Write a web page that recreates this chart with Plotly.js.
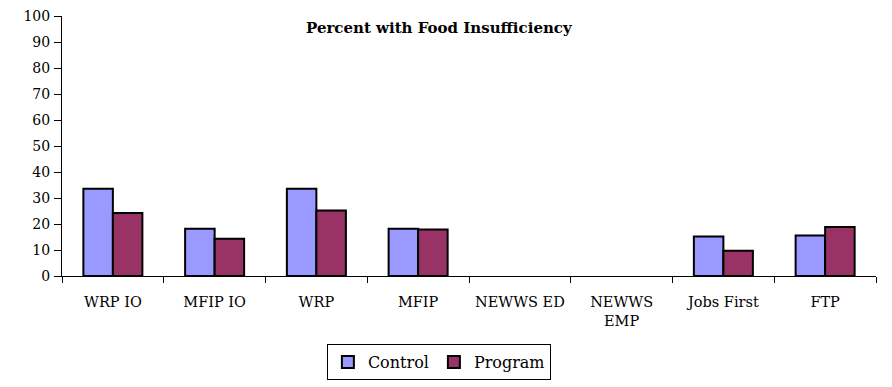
<!DOCTYPE html>
<html>
<head>
<meta charset="utf-8">
<script src="https://cdn.plot.ly/plotly-3.0.1.min.js"></script>
<style>
  html, body { margin: 0; padding: 0; background: #fff; }
  #chart { width: 892px; height: 387px; }
</style>
</head>
<body>
<div id="chart"></div>
<script>
// programs along the x axis
const programs = ["WRP IO", "MFIP IO", "WRP", "MFIP", "NEWWS ED", "NEWWS<br>EMP", "Jobs First", "FTP"];

// percent with food insufficiency (null = not reported)
const controlValues = [33.6, 18.2, 33.6, 18.2, null, null, 15.2, 15.6];
const programValues = [24.2, 14.3, 25.2, 17.9, null, null, 9.7, 18.8];

const yTicks = [0, 10, 20, 30, 40, 50, 60, 70, 80, 90, 100];

// the only serif face that actually resolves in the renderer
const serif = "DejaVu Serif";

const control = {
    x: programs,
    y: controlValues,
    name: "Control",
    type: "bar",
    marker: { color: "#9999FF", line: { color: "#000", width: 2 } },
    hoverinfo: "y"
};

const program = {
    x: programs,
    y: programValues,
    name: "Program",
    type: "bar",
    marker: { color: "#993366", line: { color: "#000", width: 2 } },
    hoverinfo: "y"
};

const layout = {
    width: 892,
    height: 387,
    margin: { t: 16, b: 111, l: 62, r: 16, autoexpand: false },
    paper_bgcolor: "#fff",
    plot_bgcolor: "#fff",
    font: { family: serif, size: 15, color: "#000" },
    title: {
        text: "<b>Percent with Food Insufficiency</b>",
        font: { family: serif, size: 15, color: "#000" },
        x: 0.492, xanchor: "center",
        y: 0.928, yanchor: "middle"
    },
    barmode: "group",
    bargap: 0.42,
    bargroupgap: 0,
    xaxis: {
        type: "category",
        showline: true, linecolor: "#000", linewidth: 1,
        ticks: "outside", tickson: "boundaries", ticklen: 6, tickcolor: "#000",
        tickangle: 0,
        ticklabelstandoff: 13,
        showgrid: false, zeroline: false,
        tickfont: { family: serif, size: 14.5 }
    },
    yaxis: {
        range: [0, 100],
        tickvals: yTicks,
        showline: true, linecolor: "#000", linewidth: 1,
        ticks: "outside", ticklen: 7, tickcolor: "#000",
        ticklabelstandoff: 1,
        showgrid: false, zeroline: false,
        tickfont: { family: serif, size: 14 }
    },
    showlegend: true,
    legend: {
        orientation: "h",
        x: 0.463, xanchor: "center",
        y: -0.262, yanchor: "top",
        bordercolor: "#000", borderwidth: 1,
        font: { family: serif, size: 16, color: "#000" },
        traceorder: "normal"
    }
};

Plotly.newPlot("chart", [control, program], layout, { displayModeBar: false, staticPlot: true });
</script>
</body>
</html>
